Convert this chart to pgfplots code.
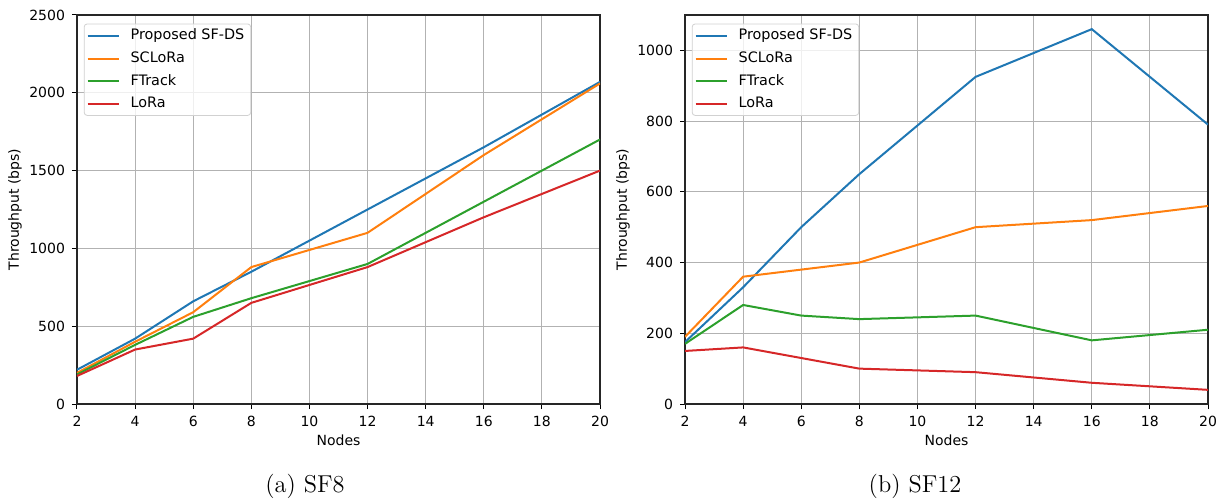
\documentclass[border=0pt]{standalone}
\usepackage{pgfplots}
\pgfplotsset{compat=1.18}
\usepackage{fontspec}
\newfontfamily\dejavu{DejaVu Sans}
\definecolor{tabblue}{HTML}{1F77B4}
\definecolor{taborange}{HTML}{FF7F0E}
\definecolor{tabgreen}{HTML}{2CA02C}
\definecolor{tabred}{HTML}{D62728}
\pgfplotsset{
  mpl/.style={
    scale only axis, width=261.5pt, height=194.5pt,
    xmin=2, xmax=20, xtick={2,4,...,20},
    ymin=0,
    font=\dejavu\fontsize{7}{8.4}\selectfont,
    /pgf/number format/assume math mode=true,
    ticklabel style={font=\dejavu\fontsize{7}{8.4}\selectfont},
    tick pos=left, tick align=outside,
    major tick length=2.5pt,
    every tick/.style={black, line width=0.5pt},
    axis line style={line width=0.55pt, black!85},
    grid=major,
    grid style={line width=0.5pt, color=black!30},
    xlabel={Nodes}, ylabel={Throughput (bps)},
    every axis x label/.style={at={(axis description cs:0.5,-0.0925)}, anchor=center},
    every axis y label/.style={at={(axis description cs:-0.1185,0.5)}, rotate=90, anchor=center},
    legend cell align=left,
    legend style={at={(axis description cs:0.013,0.978)}, anchor=north west,
      draw=black!18, rounded corners=1.5pt, fill=white, fill opacity=0.8, text opacity=1,
      font=\dejavu\fontsize{7.2}{8.6}\selectfont, row sep=0.4pt,
      inner xsep=1.2pt, inner ysep=0.5pt},
    legend image code/.code={\draw[##1] (0pt,0pt) -- (15.5pt,0pt); \path (19pt,0pt);},
    every axis plot/.append style={line width=1pt, mark=none},
    scaled y ticks=false,
    yticklabel style={/pgf/number format/1000 sep={}},
  }
}
\begin{document}
\begin{tikzpicture}
\useasboundingbox (0,0) rectangle (612.5pt,249pt);
\begin{axis}[mpl, at={(38.5pt,47pt)}, anchor=south west, ymax=2500, ytick={0,500,...,2500}]
\addplot[tabblue] coordinates {(2,220) (4,420) (6,660) (8,850) (12,1250) (16,1650) (20,2070)};
\addlegendentry{Proposed SF-DS}
\addplot[taborange] coordinates {(2,200) (4,400) (6,590) (8,880) (12,1100) (16,1600) (20,2060)};
\addlegendentry{SCLoRa}
\addplot[tabgreen] coordinates {(2,190) (4,380) (6,560) (8,680) (12,900) (16,1300) (20,1700)};
\addlegendentry{FTrack}
\addplot[tabred] coordinates {(2,180) (4,350) (6,420) (8,650) (12,880) (16,1200) (20,1500)};
\addlegendentry{LoRa}
\end{axis}
\begin{axis}[mpl, at={(342.5pt,47pt)}, anchor=south west, ymax=1100, ytick={0,200,...,1000}]
\addplot[tabblue] coordinates {(2,175) (4,330) (6,500) (8,650) (12,925) (16,1060) (20,790)};
\addlegendentry{Proposed SF-DS}
\addplot[taborange] coordinates {(2,190) (4,360) (6,380) (8,400) (12,500) (16,520) (20,560)};
\addlegendentry{SCLoRa}
\addplot[tabgreen] coordinates {(2,170) (4,280) (6,250) (8,240) (12,250) (16,180) (20,210)};
\addlegendentry{FTrack}
\addplot[tabred] coordinates {(2,150) (4,160) (6,130) (8,100) (12,90) (16,60) (20,40)};
\addlegendentry{LoRa}
\end{axis}
\node[font=\fontsize{12.2}{14}\selectfont] at (152.5pt,6pt) {(a) SF8};
\node[font=\fontsize{12.2}{14}\selectfont] at (457.5pt,6pt) {(b) SF12};
\end{tikzpicture}
\end{document}
